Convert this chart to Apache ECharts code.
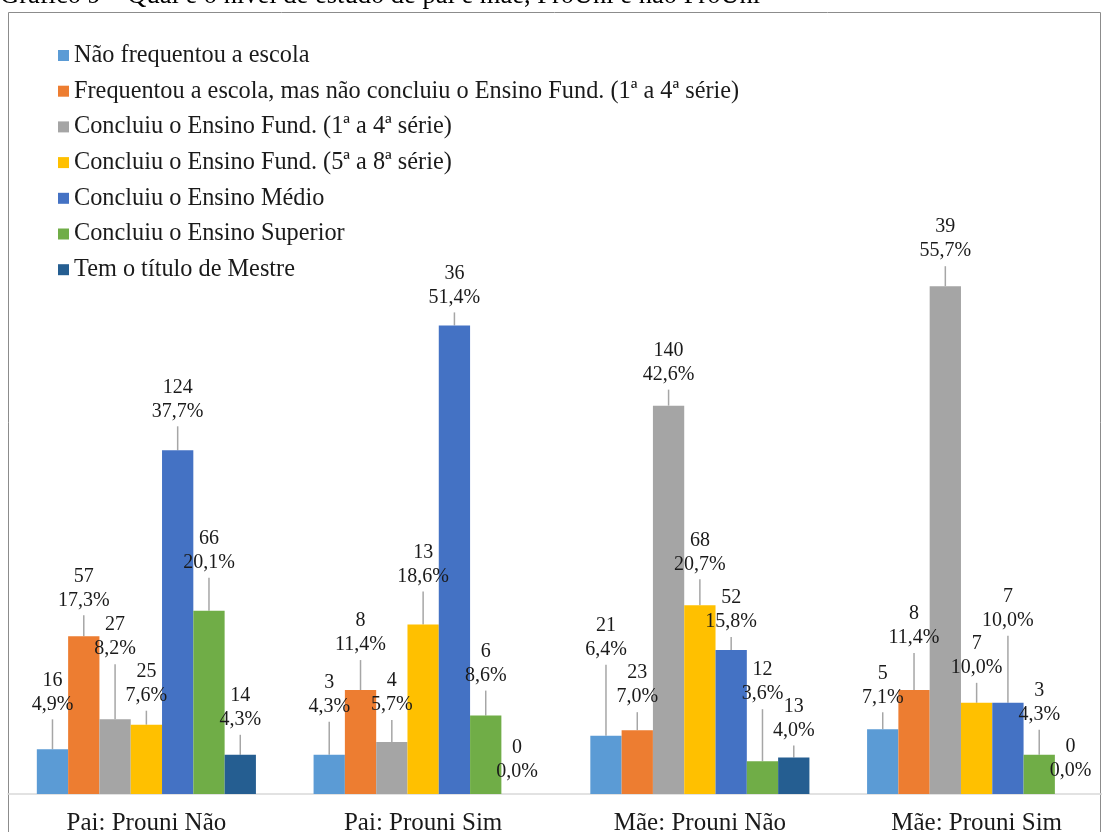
<!DOCTYPE html>
<html>
<head>
<meta charset="utf-8">
<script src="https://cdn.jsdelivr.net/npm/echarts@6/dist/echarts.min.js"></script>
<style>
html,body{margin:0;padding:0;background:#fff;}
#chart{width:1102px;height:832px;}
</style>
</head>
<body>
<div id="chart"></div>
<script>
// ---- data ----
const titleText = 'Gráfico 9 – Qual é o nível de estudo de pai e mãe, ProUni e não ProUni';
const categories = ['Pai: Prouni Não', 'Pai: Prouni Sim', 'Mãe: Prouni Não', 'Mãe: Prouni Sim'];
const seriesNames = [
  'Não frequentou a escola',
  'Frequentou a escola, mas não concluiu o Ensino Fund. (1ª a 4ª série)',
  'Concluiu o Ensino Fund. (1ª a 4ª série)',
  'Concluiu o Ensino Fund. (5ª a 8ª série)',
  'Concluiu o Ensino Médio',
  'Concluiu o Ensino Superior',
  'Tem o título de Mestre'
];
const countsNaoFrequentou = [16, 3, 21, 5];
const countsFrequentou    = [57, 8, 23, 8];
const countsFund14        = [27, 4, 140, 39];
const countsFund58        = [25, 13, 68, 7];
const countsMedio         = [124, 36, 52, 7];
const countsSuperior      = [66, 6, 12, 3];
const countsMestre        = [14, 0, 13, 0];

const pctNaoFrequentou = [4.9, 4.3, 6.4, 7.1];
const pctFrequentou    = [17.3, 11.4, 7.0, 11.4];
const pctFund14        = [8.2, 5.7, 42.6, 55.7];
const pctFund58        = [7.6, 18.6, 20.7, 10.0];
const pctMedio         = [37.7, 51.4, 15.8, 10.0];
const pctSuperior      = [20.1, 8.6, 3.6, 4.3];
const pctMestre        = [4.3, 0.0, 4.0, 0.0];

const counts = [countsNaoFrequentou, countsFrequentou, countsFund14, countsFund58, countsMedio, countsSuperior, countsMestre];
const percents = [pctNaoFrequentou, pctFrequentou, pctFund14, pctFund58, pctMedio, pctSuperior, pctMestre];

// ---- styling / layout ----
const colors = ['#5B9BD5', '#ED7D31', '#A5A5A5', '#FFC000', '#4472C4', '#70AD47', '#255E91'];
// how far each data label is lifted above its bar (px), per series, per category
const labelLift = [
  [30, 33, 71, 17],
  [21, 30, 18, 37],
  [55, 22, 16, 20],
  [14, 33, 26, 20],
  [24, 13, 13, 67],
  [33, 25, 52, 25],
  [20, 7, 12, 8]
];
const FONT = 'Liberation Serif';

const chart = echarts.init(document.getElementById('chart'), null, {renderer: 'canvas'});

const series = seriesNames.map(function (name, si) {
  return {
    name: name,
    type: 'bar',
    barWidth: 31.3,
    barGap: '0%',
    itemStyle: {color: colors[si]},
    data: percents[si].map(function (v) {
      const item = {value: v};
      if (v === 0) item.labelLine = {show: false};
      return item;
    }),
    label: {
      show: true,
      position: 'top',
      distance: 0,
      fontFamily: FONT,
      fontSize: 20,
      lineHeight: 24,
      color: '#1a1a1a',
      padding: [0, 0, 3, 0],
      formatter: function (p) {
        return counts[si][p.dataIndex] + '\n' + percents[si][p.dataIndex].toFixed(1).replace('.', ',') + '%';
      }
    },
    labelLine: {
      show: true,
      length2: 0,
      lineStyle: {color: '#a6a6a6', width: 1.5}
    },
    labelLayout: function (params) {
      return {dy: -labelLift[params.seriesIndex][params.dataIndex]};
    }
  };
});

chart.setOption({
  animation: false,
  backgroundColor: '#ffffff',
  graphic: [
    {
      type: 'rect',
      silent: true,
      shape: {x: 8.5, y: 12.5, width: 1092, height: 840},
      style: {fill: 'none', stroke: '#8c8c8c', lineWidth: 1}
    },
    {
      type: 'text',
      silent: true,
      style: {
        text: titleText,
        x: 0,
        y: 10,
        verticalAlign: 'bottom',
        font: '26.5px "Liberation Serif"',
        fill: '#000'
      }
    }
  ],
  legend: {
    orient: 'vertical',
    left: 58,
    top: 43.5,
    padding: 0,
    itemWidth: 11,
    itemHeight: 11,
    itemGap: 11.7,
    icon: 'rect',
    data: seriesNames,
    textStyle: {fontFamily: FONT, fontSize: 24.3, lineHeight: 24, color: '#1a1a1a'}
  },
  grid: {left: 8, top: 247, width: 1107, height: 547, containLabel: false, outerBoundsMode: 'none'},
  xAxis: {
    type: 'category',
    data: categories,
    axisTick: {show: false},
    axisLine: {show: true, lineStyle: {color: '#d9d9d9', width: 1.5}},
    axisLabel: {fontFamily: FONT, fontSize: 25, color: '#1a1a1a', margin: 17}
  },
  yAxis: {
    type: 'value',
    min: 0,
    max: 60,
    show: false,
    splitLine: {show: false}
  },
  series: series
});
</script>
</body>
</html>
